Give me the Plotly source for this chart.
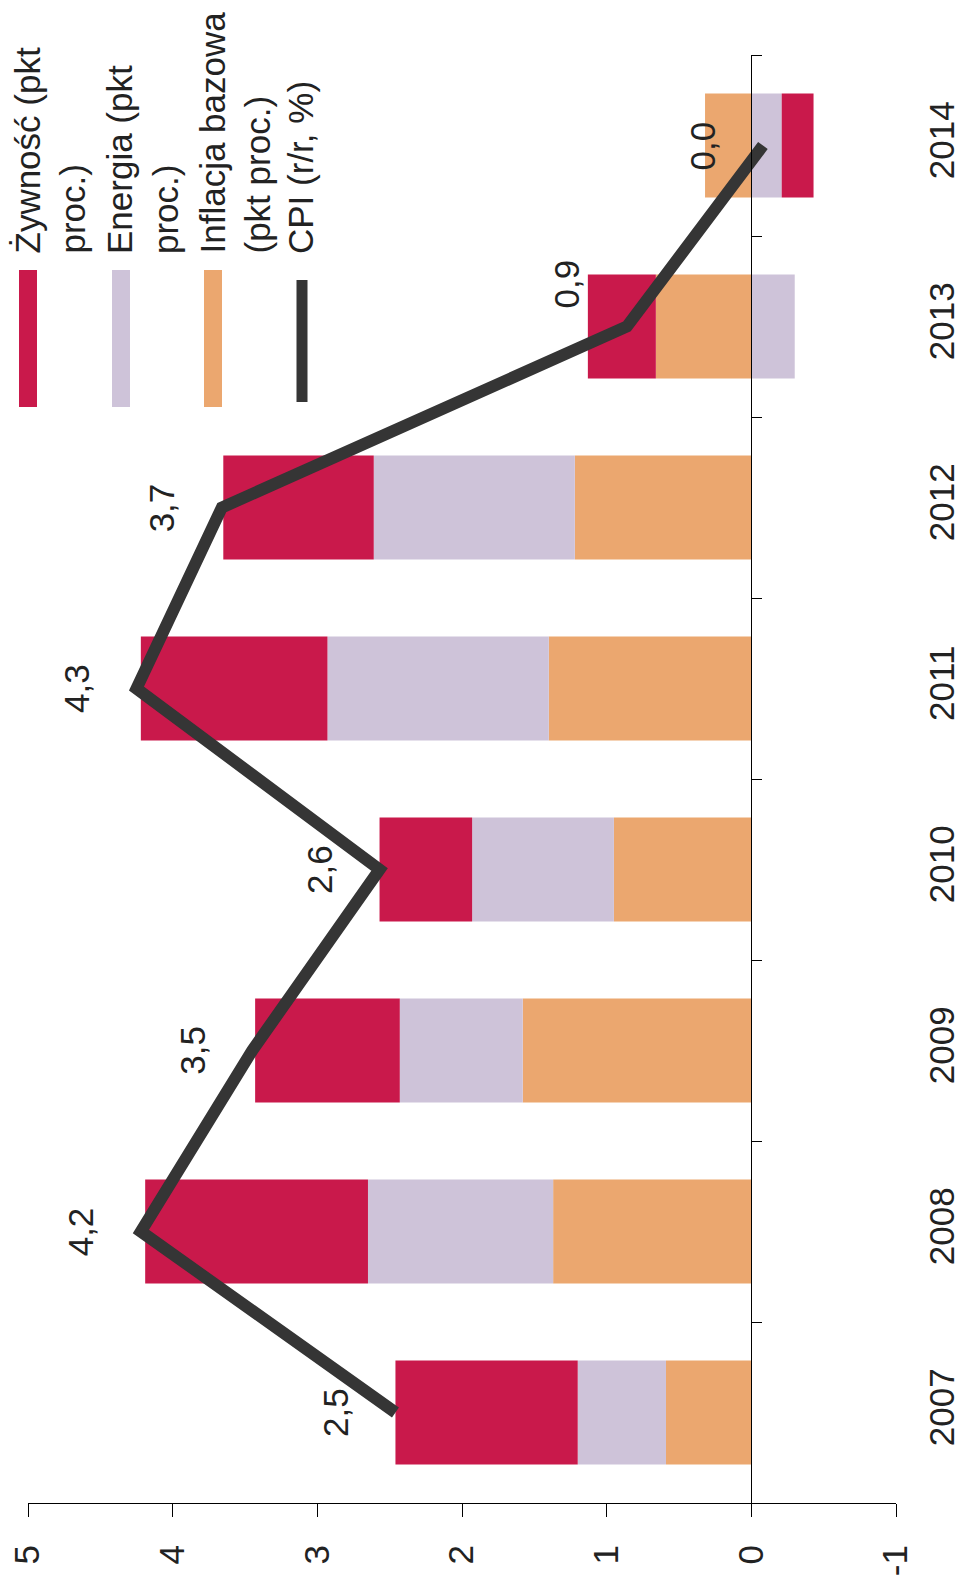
import plotly.graph_objects as go

# ---------------- data ----------------
years = [2007, 2008, 2009, 2010, 2011, 2012, 2013, 2014]
year_labels = ["2007", "2008", "2009", "2010", "2011", "2012", "2013", "2014"]
core = [0.59, 1.37, 1.58, 0.95, 1.40, 1.22, 0.66, 0.32]      # Inflacja bazowa
energy = [0.61, 1.28, 0.85, 0.98, 1.53, 1.39, -0.30, -0.21]  # Energia
food = [1.26, 1.54, 1.00, 0.64, 1.29, 1.04, 0.47, -0.22]     # Żywność
cpi = [2.46, 4.22, 3.45, 2.57, 4.25, 3.66, 0.86, -0.08]      # CPI
cpi_labels = ["2,5", "4,2", "3,5", "2,6", "4,3", "3,7", "0,9", "0,0"]
value_ticks = [5, 4, 3, 2, 1, 0, -1]
value_ticktext = ["5", "4", "3", "2", "1", "0", "-1"]

series_names = ["Żywność (pkt<br>proc.)", "Energia (pkt<br>proc.)",
                "Inflacja bazowa<br>(pkt proc.)", "CPI (r/r, %)"]

# ---------------- style ----------------
W, H = 961, 1579
PLOT_L, PLOT_R, PLOT_T, PLOT_B = 28, 896, 55, 1503   # pixels
ML, MR, MT, MB = PLOT_L, W - PLOT_R, PLOT_T, H - PLOT_B
C_FOOD = "#C9194B"
C_ENERGY = "#CEC3D9"
C_CORE = "#EBA76F"
C_LINE = "#353535"
FONT = "Liberation Sans, Arial, sans-serif"
FS = 35
TXT = "#222222"
BAR_W = 0.575


def px_x(p):
    return (p - PLOT_L) / (PLOT_R - PLOT_L)


def px_y(p):
    return 1 - (p - PLOT_T) / (PLOT_B - PLOT_T)


fig = go.Figure()
for vals, col, name in [(core, C_CORE, "core"), (energy, C_ENERGY, "energy"), (food, C_FOOD, "food")]:
    fig.add_trace(go.Bar(x=vals, y=years, orientation="h", width=BAR_W,
                         marker=dict(color=col, line=dict(width=0)),
                         name=name, showlegend=False))

fig.add_trace(go.Scatter(x=cpi, y=years, mode="lines",
                         line=dict(color=C_LINE, width=12),
                         showlegend=False))

# helper trace for the category axis drawn at value 0
fig.add_trace(go.Scatter(x=[None], y=[None], yaxis="y2", showlegend=False))

annotations = []
label_yshift = {2013: 43}
for yr, v, t in zip(years, cpi, cpi_labels):
    annotations.append(dict(x=v, y=yr, xref="x", yref="y", text=t, showarrow=False,
                            textangle=-90, xshift=-60, yshift=label_yshift.get(yr, 0),
                            font=dict(family=FONT, size=FS, color=TXT)))

# legend (rotated)
leg_cols = [28, 121, 213, 302]
leg_colors = [C_FOOD, C_ENERGY, C_CORE, C_LINE]
shapes = []
for i, (cx, col, name) in enumerate(zip(leg_cols, leg_colors, series_names)):
    if i < 3:
        shapes.append(dict(type="rect", xref="paper", yref="paper",
                           x0=px_x(cx - 9), x1=px_x(cx + 9), y0=px_y(407), y1=px_y(270),
                           fillcolor=col, line=dict(width=0), layer="above"))
    else:
        shapes.append(dict(type="line", xref="paper", yref="paper",
                           x0=px_x(cx), x1=px_x(cx), y0=px_y(402), y1=px_y(280),
                           line=dict(color=col, width=11), layer="above"))
    annotations.append(dict(x=px_x(cx - 23), y=px_y(256), xref="paper", yref="paper",
                            xanchor="left", yanchor="bottom", align="left",
                            text=name, showarrow=False, textangle=-90,
                            font=dict(family=FONT, size=FS, color=TXT)))

fig.update_layout(
    width=W, height=H,
    margin=dict(l=ML, r=MR, t=MT, b=MB),
    paper_bgcolor="white", plot_bgcolor="white",
    barmode="relative",
    font=dict(family=FONT, size=FS, color=TXT),
    xaxis=dict(range=[5, -1], tickvals=value_ticks, ticktext=value_ticktext,
               tickangle=-90, ticks="outside", ticklen=13, tickcolor="black",
               showline=True, linecolor="black", linewidth=1, mirror=False,
               showgrid=False, zeroline=False, tickfont=dict(size=FS),
               ticklabelstandoff=14, ticklabeloverflow="allow",
               automargin=False),
    yaxis=dict(range=[2006.5, 2014.5], tickvals=years, ticktext=year_labels,
               side="right", tickangle=-90, ticks="", showline=False,
               showgrid=False, zeroline=False, ticklabelstandoff=22,
               ticklabeloverflow="allow",
               tickfont=dict(size=FS), automargin=False),
    yaxis2=dict(range=[2006.5, 2014.5], overlaying="y", anchor="free",
                position=5 / 6, side="right",
                tickvals=[y - 0.5 for y in years] + [years[-1] + 0.5],
                ticks="outside", ticklen=10, tickcolor="black",
                showticklabels=False, showline=True, linecolor="black",
                linewidth=1, showgrid=False, zeroline=False, automargin=False),
    annotations=annotations,
    shapes=shapes,
)

page_fix = ("document.body.style.margin='0';"
            "document.body.style.overflow='hidden';"
            "document.documentElement.style.overflow='hidden';")
fig.write_html("out.html", post_script=page_fix, config={"displayModeBar": False})
